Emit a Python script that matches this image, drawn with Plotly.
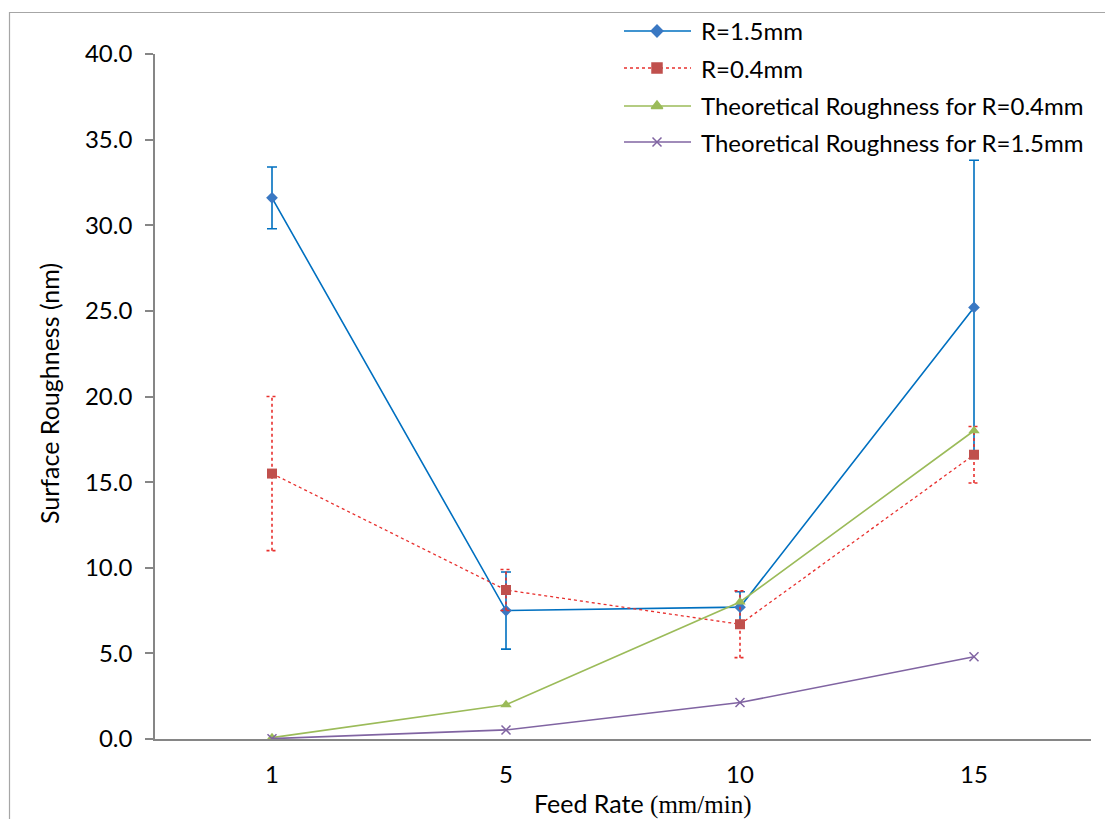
import plotly.graph_objects as go

# ---- data ----
feed_rates = ["1", "5", "10", "15"]
r15_mean = [31.6, 7.5, 7.7, 25.2]
r15_err = [1.8, 2.25, 0.9, 8.6]
r04_mean = [15.5, 8.7, 6.7, 16.6]
r04_err = [4.5, 1.2, 1.95, 1.65]
theory_r04 = [0.08, 2.0, 8.0, 18.0]
theory_r15 = [0.02, 0.53, 2.13, 4.8]
y_ticks = [0, 5, 10, 15, 20, 25, 30, 35, 40]

series_names = ["R=1.5mm", "R=0.4mm",
                "Theoretical Roughness for R=0.4mm",
                "Theoretical Roughness for R=1.5mm"]

# ---- styling ----
W, H = 1105, 819
PL, PR, PT, PB = 155, 1091, 54, 739          # plot area in pixels
FONT = "Lato, 'Noto Sans', sans-serif"
FS = 24
BLUE_LINE, BLUE_MK = "#0070C0", "#3A78C3"
RED_LINE, RED_MK = "#E8302E", "#C0504D"
GREEN = "#9BBB59"
PURPLE = "#8064A2"
AXIS_GRAY = "#868686"

xpos = list(range(len(feed_rates)))
px_per_unit = (PR - PL) / len(feed_rates)

fig = go.Figure()

# R=1.5mm measured, with solid error bars
fig.add_trace(go.Scatter(
    x=xpos, y=r15_mean, mode="lines+markers", name=series_names[0],
    line=dict(color=BLUE_LINE, width=1.6),
    marker=dict(symbol="diamond", size=9, color=BLUE_MK),
    error_y=dict(type="data", array=r15_err, visible=True,
                 color=BLUE_LINE, thickness=1.6, width=5),
    showlegend=False))

# R=0.4mm measured error bars (dotted) built from mean +/- error
cap = 5.5 / px_per_unit
ex, ey = [], []
for i, (m, e) in enumerate(zip(r04_mean, r04_err)):
    lo, hi = m - e, m + e
    ex += [i, i, None, i - cap, i + cap, None, i - cap, i + cap, None]
    ey += [lo, hi, None, lo, lo, None, hi, hi, None]
fig.add_trace(go.Scatter(
    x=ex, y=ey, mode="lines", line=dict(color=RED_LINE, width=1.6, dash="dot"),
    hoverinfo="skip", showlegend=False))

fig.add_trace(go.Scatter(
    x=xpos, y=r04_mean, mode="lines+markers", name=series_names[1],
    line=dict(color=RED_LINE, width=1.3, dash="dot"),
    marker=dict(symbol="square", size=10, color=RED_MK),
    showlegend=False))

fig.add_trace(go.Scatter(
    x=xpos, y=theory_r04, mode="lines+markers", name=series_names[2],
    line=dict(color=GREEN, width=1.6),
    marker=dict(symbol="triangle-up", size=10, color=GREEN),
    showlegend=False))

fig.add_trace(go.Scatter(
    x=xpos, y=theory_r15, mode="lines+markers", name=series_names[3],
    line=dict(color=PURPLE, width=1.6),
    marker=dict(symbol="x-thin-open", size=9, color=PURPLE,
                line=dict(color=PURPLE, width=1.5)),
    showlegend=False))

# ---- legend drawn on a full-page pixel overlay ----
legend_rows = [31, 68, 106, 142]
legend_styles = [
    (BLUE_LINE, "solid", 1.6, "diamond", 9, BLUE_MK),
    (RED_LINE, "dot", 1.3, "square", 10, RED_MK),
    (GREEN, "solid", 1.6, "triangle-up", 10, GREEN),
    (PURPLE, "solid", 1.6, "x-thin-open", 9, PURPLE),
]
for yrow, (lc, dash, lw, sym, ms, mc), name in zip(legend_rows, legend_styles, series_names):
    fig.add_trace(go.Scatter(
        x=[624, 691], y=[yrow, yrow], mode="lines", xaxis="x2", yaxis="y2",
        line=dict(color=lc, width=lw, dash=dash), hoverinfo="skip", showlegend=False))
    fig.add_trace(go.Scatter(
        x=[657], y=[yrow], mode="markers", xaxis="x2", yaxis="y2",
        marker=dict(symbol=sym, size=ms, color=mc, line=dict(color=mc, width=1.5)),
        hoverinfo="skip", showlegend=False))
    fig.add_annotation(text=name, xref="paper", yref="paper",
                       x=699 / W, y=1 - yrow / H, xanchor="left", yanchor="middle",
                       showarrow=False, font=dict(family=FONT, size=FS, color="#000000"))

# axis titles
fig.add_annotation(text="Surface Roughness (nm)", xref="paper", yref="paper",
                   x=49 / W, y=1 - 394 / H, textangle=-90, showarrow=False,
                   xanchor="center", yanchor="middle",
                   font=dict(family=FONT, size=25, color="#000000"))
fig.add_annotation(
    text="Feed Rate <span style='font-family:\"Liberation Serif\", serif'>(mm/min)</span>",
    xref="paper", yref="paper", x=642 / W, y=1 - 803 / H, showarrow=False,
    xanchor="center", yanchor="middle",
    font=dict(family=FONT, size=25, color="#000000"))

# chart border
fig.add_shape(type="rect", xref="paper", yref="paper",
              x0=9.5 / W, x1=1.01, y0=-0.01, y1=1 - 12.5 / H,
              line=dict(color="#A6A6A6", width=1.2), fillcolor="rgba(0,0,0,0)",
              layer="below")

fig.update_layout(
    width=W, height=H,
    margin=dict(l=0, r=0, t=0, b=0, autoexpand=False),
    paper_bgcolor="white", plot_bgcolor="rgba(0,0,0,0)",
    showlegend=False,
    xaxis=dict(domain=[PL / W, PR / W], range=[-0.5, len(feed_rates) - 0.5],
               tickvals=xpos, ticktext=feed_rates, ticks="",
               showline=True, linecolor=AXIS_GRAY, linewidth=1.6,
               showgrid=False, zeroline=False, ticklabelstandoff=13,
               tickfont=dict(family=FONT, size=FS, color="#000000"),
               automargin=False, fixedrange=True),
    yaxis=dict(domain=[(H - PB) / H, (H - PT) / H], range=[0, 40],
               tickvals=y_ticks, tickformat=".1f", ticks="outside", ticklen=8,
               tickcolor=AXIS_GRAY, tickwidth=1.6,
               showline=True, linecolor=AXIS_GRAY, linewidth=1.6,
               showgrid=False, zeroline=False, ticklabelstandoff=8,
               tickfont=dict(family=FONT, size=FS, color="#000000"),
               automargin=False, fixedrange=True),
    xaxis2=dict(domain=[0, 1], range=[0, W], visible=False, anchor="y2",
                automargin=False, fixedrange=True),
    yaxis2=dict(domain=[0, 1], range=[H, 0], visible=False, anchor="x2",
                automargin=False, fixedrange=True),
)

fig.write_html("out.html")
